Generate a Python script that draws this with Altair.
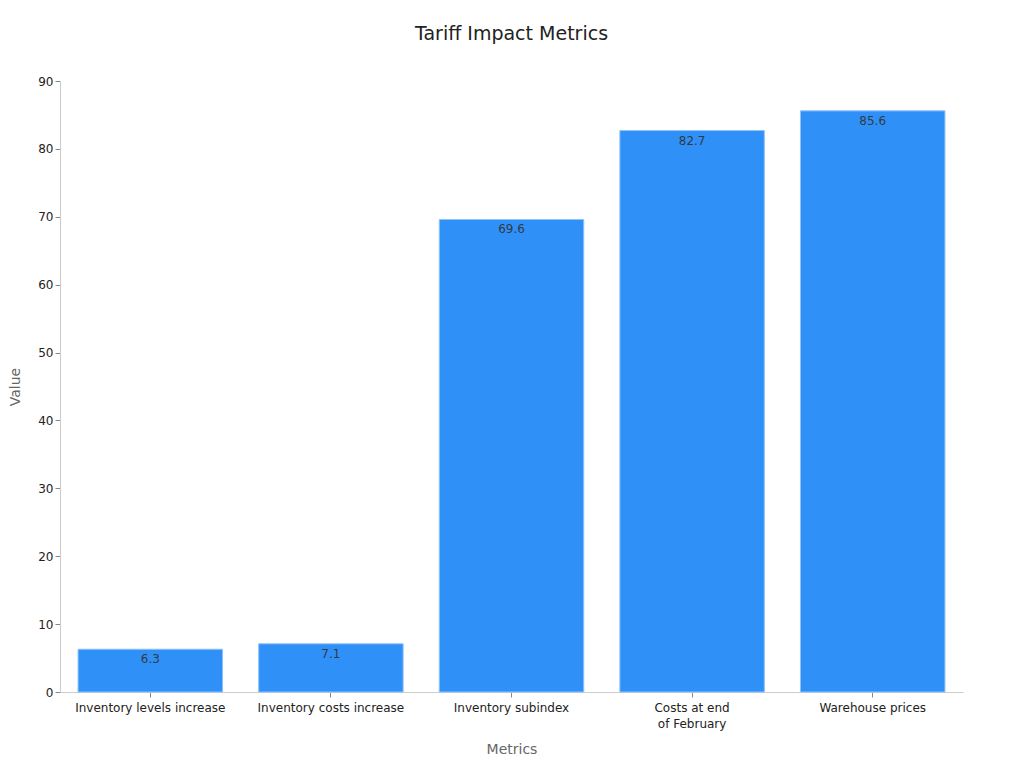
import pandas as pd
import altair as alt

# ==================== 데이터 ====================
METRICS = [
    "Inventory levels increase",
    "Inventory costs increase",
    "Inventory subindex",
    "Costs at end of February",
    "Warehouse prices",
]
VALUES = [6.3, 7.1, 69.6, 82.7, 85.6]

BAR_COLOR = "#2f91f7"
FONT = "DejaVu Sans"

df = pd.DataFrame({"metric": METRICS, "value": VALUES})

base = alt.Chart(df).encode(
    x=alt.X(
        "metric:N",
        sort=METRICS,
        title="Metrics",
        scale=alt.Scale(paddingInner=0.2, paddingOuter=0.1),
        axis=alt.Axis(
            labelAngle=0,
            labelExpr="datum.label == 'Costs at end of February' ? ['Costs at end', 'of February'] : datum.label",
            labelFontSize=12,
            labelLineHeight=16,
            labelColor="#222222",
            titleFontSize=14,
            titleColor="#666666",
            titleFontWeight="normal",
            titlePadding=13,
            domainColor="#cccccc",
            tickColor="#888888",
            labelPadding=5,
        ),
    ),
    y=alt.Y(
        "value:Q",
        title="Value",
        scale=alt.Scale(domain=[0, 90]),
        axis=alt.Axis(
            values=list(range(0, 91, 10)),
            grid=False,
            labelFontSize=12,
            labelColor="#222222",
            titleFontSize=14,
            titleColor="#666666",
            titleFontWeight="normal",
            titlePadding=15,
            domainColor="#cccccc",
            tickColor="#888888",
        ),
    ),
)

bars = base.mark_bar(color=BAR_COLOR, stroke="#8cc3fb", strokeWidth=1)

labels = base.mark_text(
    baseline="top", dy=5, fontSize=12, color="#333a44", font=FONT
).encode(text=alt.Text("value:Q", format=".1f"))

chart = (
    (bars + labels)
    .properties(
        width=903,
        height=611,
        title=alt.TitleParams(
            "Tariff Impact Metrics",
            fontSize=19,
            fontWeight="normal",
            color="#222222",
            font=FONT,
            offset=31,
        ),
        autosize=alt.AutoSizeParams(type="none"),
        padding={"left": 52, "top": 73, "right": 53, "bottom": 68},
    )
    .configure(font=FONT)
    .configure_view(stroke=None)
)

chart.save("out.html", embed_options={"renderer": "svg", "actions": False})
